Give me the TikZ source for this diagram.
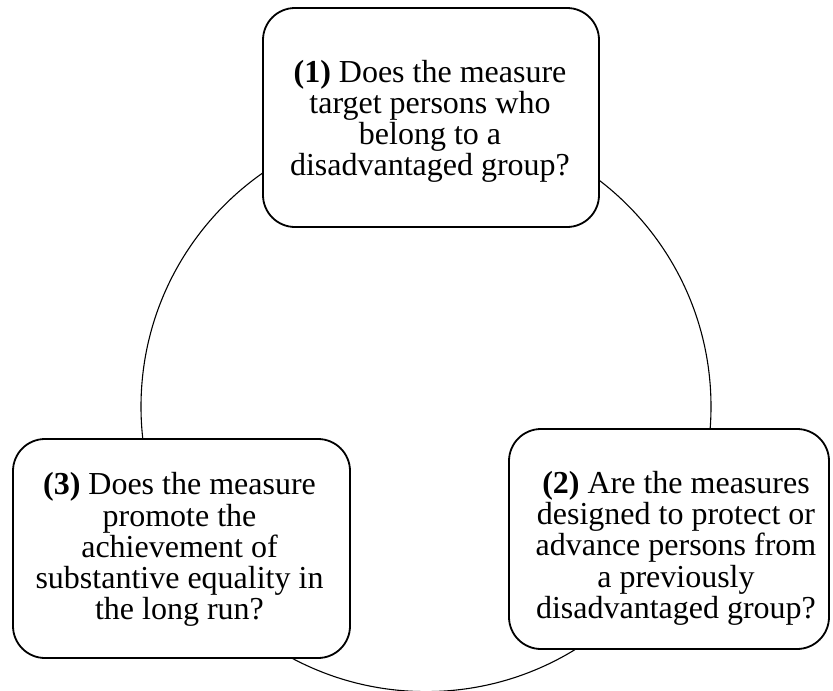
\documentclass[tikz,border=0pt]{standalone}
\usepackage{fontspec}
\setmainfont{Liberation Serif}
\begin{document}
\begin{tikzpicture}[x=1pt,y=-1pt,
  qbox/.style={draw=black, line width=1.8pt, fill=white, rounded corners=32pt, inner sep=0pt},
  qtext/.style={align=center, inner sep=0pt, font=\fontsize{32}{31.3}\selectfont},
  ring/.style={draw=black, line width=1.1pt, circle, inner sep=0pt}]
\useasboundingbox (0,0) rectangle (833,691);
\node[ring, minimum size=570pt] (cyc) at (426,406.6) {};
\node[qbox, minimum width=336pt, minimum height=219pt] (q1) at (431,117.5) {};
\node[qbox, minimum width=320pt, minimum height=220pt] (q2) at (669,539) {};
\node[qbox, minimum width=337pt, minimum height=219pt] (q3) at (181.5,548.5) {};
\node[qtext] (t1) at (430,121.3)
  {\textbf{(1)} Does the measure\\target persons who\\belong to a\\disadvantaged group?};
\node[qtext] (t2) at (676,548.2)
  {\textbf{(2)} Are the measures\\designed to protect or\\advance persons from\\a previously\\disadvantaged group?};
\node[qtext] (t3) at (179.5,549.7)
  {\textbf{(3)} Does the measure\\promote the\\achievement of\\substantive equality in\\the long run?};
\end{tikzpicture}
\end{document}
